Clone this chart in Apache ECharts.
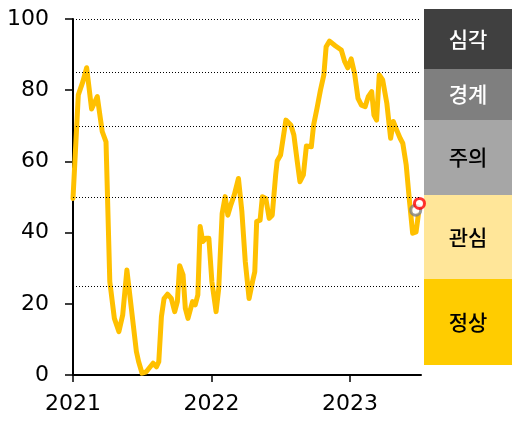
<!DOCTYPE html>
<html><head><meta charset="utf-8">
<script src="https://cdn.jsdelivr.net/npm/echarts@6/dist/echarts.min.js"></script>
<style>html,body{margin:0;padding:0;background:#fff}#c{width:512px;height:421px}</style>
</head><body><div id="c"></div>
<script>
// days since 2021-01-01
const dayOffsets = [0,14,26,36,49,64,77,87,97,109,121,131,142,167,173,182,193,211,220,226,233,240,249,259,268,275,281,290,296,303,315,322,329,335,342,350,358,366,377,384,393,401,408,416,425,436,445,454,464,473,479,484,493,499,508,517,525,534,538,547,561,574,582,591,598,607,615,628,634,643,652,661,667,676,691,707,716,724,733,742,751,760,770,778,787,793,800,807,816,827,837,844,853,862,869,878,886,895,904,910];
const values = [49.6,78.7,82.4,86.3,74.7,78.2,68.4,65.5,26.2,15.9,12.2,16.9,29.5,6.6,3.7,0.5,0.9,3.3,2.3,3.7,16.4,21.5,22.7,21.5,17.8,20.6,30.7,28.1,18.7,15.9,20.6,19.7,22.5,41.7,37.5,38.4,38.4,26.2,17.8,24.3,45.4,50.1,44.9,47.8,50.6,55.2,45.9,31.8,21.5,26.2,29.0,43.1,43.5,50.1,49.6,44.0,44.9,56.2,60.1,61.8,71.6,70.2,67.4,59.9,54.3,56.2,64.3,64.1,70.2,74.9,80.0,84.3,92.2,93.8,92.5,91.3,88.0,86.3,88.8,84.7,77.7,75.8,75.4,78.2,79.6,73.0,71.6,84.3,82.9,76.3,66.5,71.2,68.8,66.5,65.1,59.0,49.6,39.8,40.2,45.0];
const prevPoint = [903, 46.3];
const latestPoint = [913, 48.2];
const axisEndDay = 917;
const tickDays = [0, 365, 730];
const tickLabels = ['2021', '2022', '2023'];
const thresholds = [25, 50, 70, 85, 100];
const levelNames = ['심각', '경계', '주의', '관심', '정상'];

const lineData = dayOffsets.map((d, i) => [d, values[i]]);

// right-side level panel (decoration)
const panelX = 424, panelW = 88;
const panelTops = [9, 69, 120, 195, 279, 365];
const panelColors = ['#404040', '#7F7F7F', '#A6A6A6', '#FFE699', '#FFCC00'];
const panelText = ['#FFFFFF', '#FFFFFF', '#000000', '#000000', '#000000'];
const graphics = [];
levelNames.forEach((name, i) => {
  const y0 = panelTops[i], h = panelTops[i + 1] - panelTops[i];
  graphics.push({type: 'rect', shape: {x: panelX, y: y0, width: panelW, height: h},
    style: {fill: panelColors[i]}, silent: true});
  graphics.push({type: 'text', x: panelX + panelW / 2, y: y0 + h / 2,
    style: {text: name, fill: panelText[i], font: '500 21px "Noto Sans CJK KR"',
      textAlign: 'center', textVerticalAlign: 'middle'}, silent: true});
});

const chart = echarts.init(document.getElementById('c'), null, {renderer: 'canvas'});
chart.setOption({
  animation: false,
  grid: {left: 73, right: 91, top: 19, bottom: 46, containLabel: false},
  xAxis: {
    type: 'value', min: 0, max: axisEndDay,
    axisLine: {show: true, lineStyle: {color: '#000', width: 2}},
    axisTick: {show: true, customValues: tickDays, length: 7, lineStyle: {color: '#000', width: 1.5}},
    axisLabel: {customValues: tickDays, margin: 18, color: '#000',
      fontFamily: 'DejaVu Sans', fontSize: 22,
      formatter: v => tickLabels[tickDays.indexOf(v)] || ''},
    splitLine: {show: false}
  },
  yAxis: {
    type: 'value', min: 0, max: 100, interval: 20,
    axisLine: {show: true, lineStyle: {color: '#000', width: 2}},
    axisTick: {show: true, length: 8, lineStyle: {color: '#000', width: 1.5}},
    axisLabel: {margin: 24, color: '#000', fontFamily: 'DejaVu Sans', fontSize: 22},
    splitLine: {show: false}
  },
  series: [
    {type: 'line', data: [], z: 1, silent: true,
      markLine: {silent: true, symbol: ['none', 'none'], label: {show: false},
        lineStyle: {type: [1, 2], color: '#000', width: 1},
        data: thresholds.map(t => ({yAxis: t}))}},
    {type: 'line', data: lineData, showSymbol: false, symbol: 'none', z: 2,
      lineStyle: {color: '#FFC000', width: 5, join: 'round', cap: 'round'}},
    {type: 'scatter', data: [prevPoint], symbol: 'circle', symbolSize: 10, z: 3,
      itemStyle: {color: '#FFFFFF', borderColor: '#808080', borderWidth: 3}},
    {type: 'scatter', data: [latestPoint], symbol: 'circle', symbolSize: 10, z: 4,
      itemStyle: {color: '#FFFFFF', borderColor: '#FF0000', borderWidth: 3}}
  ],
  graphic: graphics
});
</script></body></html>
